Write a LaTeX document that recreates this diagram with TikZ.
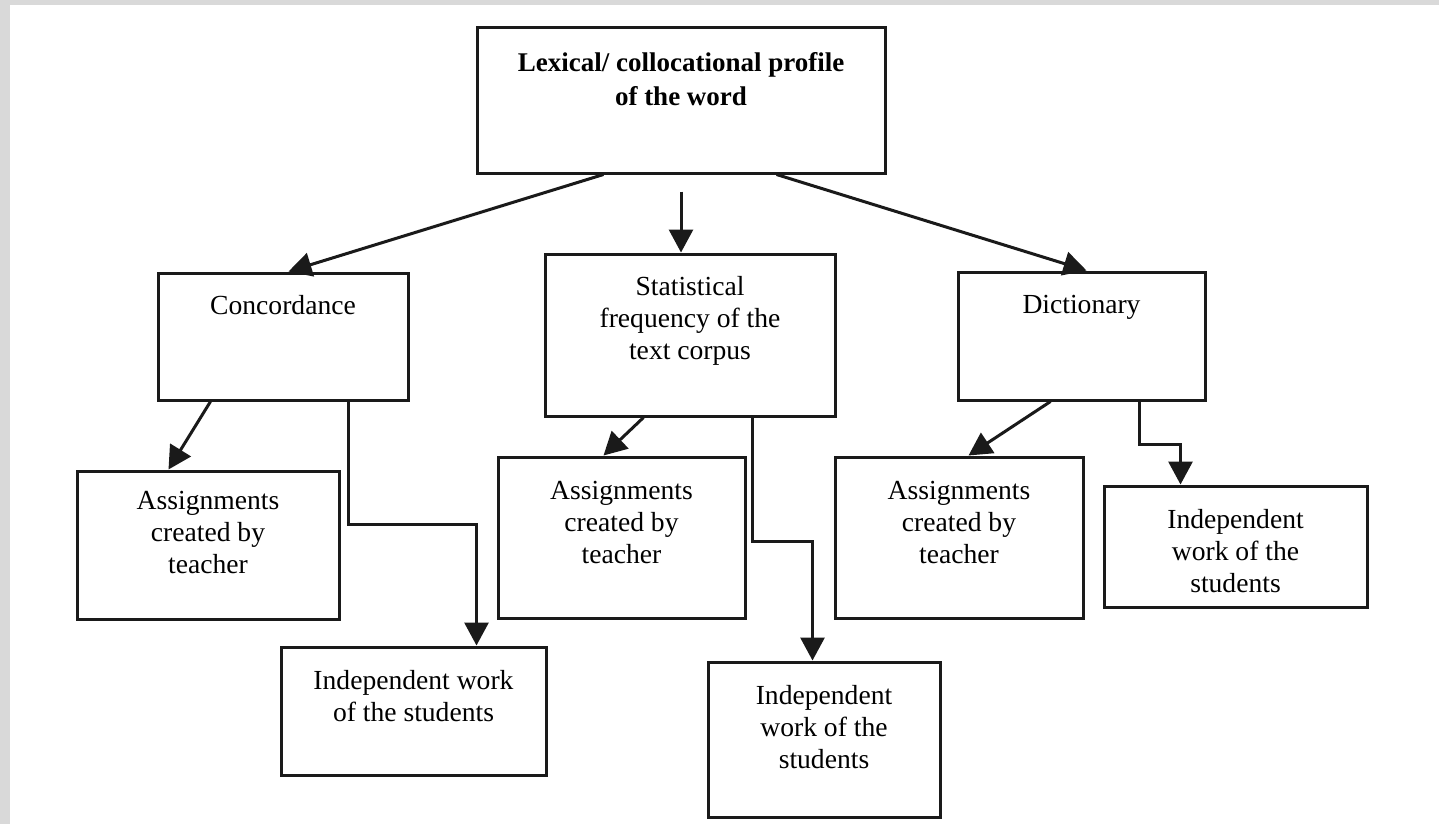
\documentclass[tikz,border=0pt]{standalone}
\usepackage{fontspec}
\setmainfont{Liberation Serif}
\usetikzlibrary{arrows.meta}
\definecolor{bggray}{HTML}{D9D9D9}
\definecolor{ink}{HTML}{1A1A1A}

\begin{document}
\begin{tikzpicture}[x=0.5pt, y=-0.5pt, >={Triangle[length=11.5pt,width=12pt]},
    blk/.style={draw=ink, line width=1.5pt, inner sep=0pt},
    txt/.style={align=center, anchor=north, inner sep=0pt, font=\fontsize{13.8}{16}\selectfont},
    link/.style={draw=ink, line width=1.5pt, ->}]
  \fill[bggray] (0,0) rectangle (1439,824);
  \fill[white] (10,5) rectangle (1439,824);
  \useasboundingbox (0,0) rectangle (1439,824);

  \node[blk, minimum width=204pt, minimum height=72.5pt] (profile) at (681,100.5) {};
  \node[blk, minimum width=125pt, minimum height=63.5pt] (conc) at (283,336.5) {};
  \node[blk, minimum width=145pt, minimum height=81pt] (stat) at (690,335) {};
  \node[blk, minimum width=123.5pt, minimum height=64pt] (dict) at (1081.5,336) {};
  \node[blk, minimum width=131pt, minimum height=74pt] (asg1) at (208,545) {};
  \node[blk, minimum width=132.5pt, minimum height=64pt] (ind1) at (413.5,711) {};
  \node[blk, minimum width=123.5pt, minimum height=80.5pt] (asg2) at (621.5,537.5) {};
  \node[blk, minimum width=116pt, minimum height=77.5pt] (ind2) at (824,739.5) {};
  \node[blk, minimum width=124pt, minimum height=80.5pt] (asg3) at (959,537.5) {};
  \node[blk, minimum width=131.5pt, minimum height=60.5pt] (ind3) at (1235.5,546.5) {};

  \node[txt, font=\bfseries\fontsize{13.5}{17}\selectfont] (profile-t) at ([yshift=-12.8pt]profile.north) {Lexical/ collocational profile\\of the word};
  \node[txt] (conc-t) at ([yshift=-11.8pt]conc.north) {Concordance};
  \node[txt] (stat-t) at ([yshift=-11.6pt]stat.north) {Statistical\\frequency of the\\text corpus};
  \node[txt] (dict-t) at ([yshift=-12.1pt]dict.north) {Dictionary};
  \node[txt] (asg1-t) at ([yshift=-10.6pt]asg1.north) {Assignments\\created by\\teacher};
  \node[txt] (ind1-t) at ([yshift=-12.1pt]ind1.north) {Independent work\\of the students};
  \node[txt] (asg2-t) at ([yshift=-12.6pt]asg2.north) {Assignments\\created by\\teacher};
  \node[txt] (ind2-t) at ([yshift=-12.1pt]ind2.north) {Independent\\work of the\\students};
  \node[txt] (asg3-t) at ([yshift=-12.6pt]asg3.north) {Assignments\\created by\\teacher};
  \node[txt] (ind3-t) at ([yshift=-12.1pt]ind3.north) {Independent\\work of the\\students};

  \draw[link] ([xshift=64pt]profile.south west) -- ([xshift=66pt]conc.north west);
  \draw[link] ([yshift=-8.5pt]profile.south) -- (profile.south |- stat.north);
  \draw[link] ([xshift=150.5pt]profile.south west) -- ([xshift=65pt]dict.north west);

  \draw[link] ([xshift=27pt]conc.south west) -- ([xshift=46.5pt]asg1.north west);
  \draw[link] ([xshift=96pt]conc.south west) -- ++(0pt,-61.5pt) -| ([xshift=98.5pt]ind1.north west);
  \draw[link] ([xshift=50pt]stat.south west) -- ([xshift=53.5pt]asg2.north west);
  \draw[link] ([xshift=104.5pt]stat.south west) -- ++(0pt,-62pt) -| ([xshift=53pt]ind2.north west);
  \draw[link] ([xshift=47pt]dict.south west) -- ([xshift=67.5pt]asg3.north west);
  \draw[link] ([xshift=91.5pt]dict.south west) -- ++(0pt,-21.5pt) -| ([xshift=39pt]ind3.north west);
\end{tikzpicture}
\end{document}
